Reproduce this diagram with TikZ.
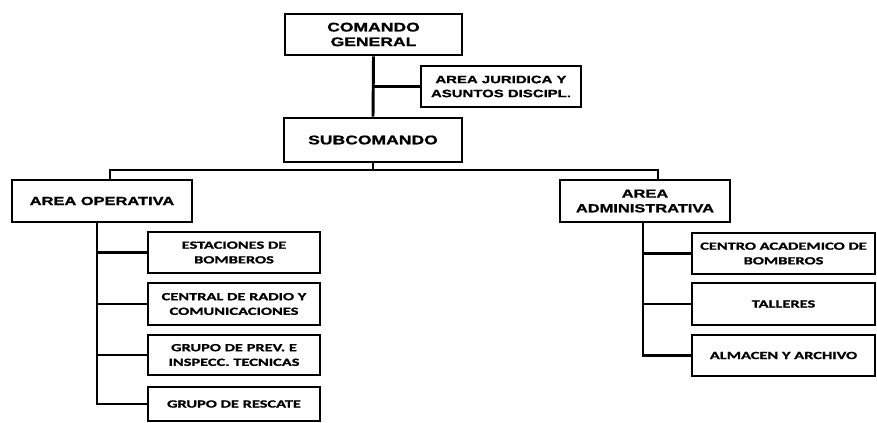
\documentclass[tikz,border=0pt]{standalone}
\usepackage{fontspec}
\usepackage{tikz}
\newfontfamily\topfont[FakeStretch=1.4,FakeBold=1.2]{Liberation Sans}
\newfontfamily\lowfont[FakeStretch=1.5,FakeBold=1.2]{Carlito}

\begin{document}
\begin{tikzpicture}[x=0.75pt,y=-0.75pt,
	box/.style={draw, line width=2.2pt, inner sep=0pt, align=center,
		font=\topfont\bfseries\fontsize{9.4}{11}\selectfont},
	areabox/.style={box, font=\topfont\bfseries\fontsize{8.8}{11}\selectfont},
	lowbox/.style={box, font=\lowfont\bfseries\fontsize{8.2}{11}\selectfont},
	link/.style={line width=2.2pt}]
	
	\useasboundingbox (0,0) rectangle (877,423);
	
	%Leitung
	\node[box, minimum width=132.75pt, minimum height=30.75pt] (gen) at (373.5,34.5) {COMANDO\\GENERAL};
	\node[box, minimum width=120pt, minimum height=30.75pt, font=\topfont\bfseries\fontsize{8}{10.5}\selectfont] (jur) at (501,86.5) {AREA JURIDICA Y\\ASUNTOS DISCIPL.};
	\node[box, minimum width=133.5pt, minimum height=33pt] (sub) at (373,140) {SUBCOMANDO};
	
	%Bereiche
	\node[areabox, minimum width=135pt, minimum height=31.5pt] (aop) at (102,201) {AREA OPERATIVA};
	\node[areabox, minimum width=127.5pt, minimum height=31.5pt] (aad) at (645,201) {AREA\\ADMINISTRATIVA};
	
	%Einheiten links
	\node[lowbox, minimum width=129pt, minimum height=30.75pt] (est) at (234,252.5) {ESTACIONES DE\\BOMBEROS};
	\node[lowbox, minimum width=129pt, minimum height=31.5pt] (cen) at (234,304) {CENTRAL DE RADIO Y\\COMUNICACIONES};
	\node[lowbox, minimum width=129pt, minimum height=30pt] (pre) at (234,355) {GRUPO DE PREV. E\\INSPECC. TECNICAS};
	\node[lowbox, minimum width=129pt, minimum height=25.5pt] (res) at (234,404) {GRUPO DE RESCATE};
	
	%Einheiten rechts
	\node[lowbox, minimum width=137.25pt, minimum height=30.75pt] (aca) at (783.5,253.5) {CENTRO ACADEMICO DE\\BOMBEROS};
	\node[lowbox, minimum width=137.25pt, minimum height=31.5pt] (tal) at (783.5,304) {TALLERES};
	\node[lowbox, minimum width=137.25pt, minimum height=30.75pt] (alm) at (783.5,355.5) {ALMACEN Y ARCHIVO};
	
	%Verbindungen
	\coordinate (bus) at (373,170);
	\coordinate (aopin) at (110,180);
	\coordinate (aadin) at (658,180);
	\coordinate (ltrunk) at (97,222);
	\coordinate (rtrunk) at (643,222);
	
	\draw[link] (gen.south) -- (sub.north); %Hauptlinie
	\draw[link] (jur.west) -- (jur.west -| gen.south);
	\draw[link] (sub.south) -- (bus) -| (aopin);
	\draw[link] (bus) -| (aadin);
	\draw[link] (ltrunk) |- (est.west);
	\draw[link] (ltrunk) |- (cen.west);
	\draw[link] (ltrunk) |- (pre.west);
	\draw[link] (ltrunk) |- (res.west);
	\draw[link] (rtrunk) |- (aca.west);
	\draw[link] (rtrunk) |- (tal.west);
	\draw[link] (rtrunk) |- (alm.west);
	
\end{tikzpicture}
\end{document}
